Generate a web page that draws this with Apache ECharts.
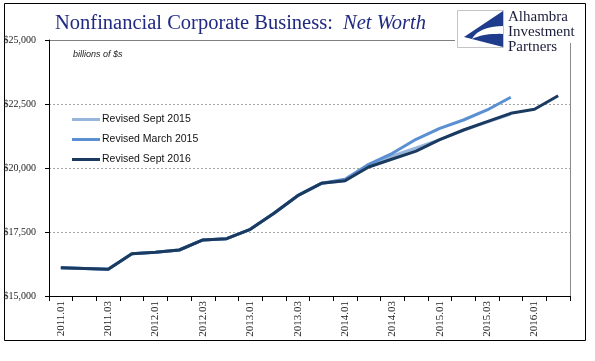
<!DOCTYPE html>
<html>
<head>
<meta charset="utf-8">
<script src="https://cdn.jsdelivr.net/npm/echarts@6/dist/echarts.min.js"></script>
<style>
html,body{margin:0;padding:0;background:#fff;}
#c{width:595px;height:361px;}
</style>
</head>
<body>
<div id="c"></div>
<script>
var categories = ["2011.01","2011.02","2011.03","2011.04","2012.01","2012.02","2012.03","2012.04","2013.01","2013.02","2013.03","2013.04","2014.01","2014.02","2014.03","2014.04","2015.01","2015.02","2015.03","2015.04","2016.01","2016.02"];
var revisedSept2015 = [16105,16074,16043,16652,16707,16797,17188,17238,17605,18230,18918,19402,19504,20100,20470,20780,21110,21470,21790,22110];
var revisedMarch2015 = [16105,16074,16043,16652,16707,16797,17188,17238,17605,18230,18918,19402,19558,20145,20574,21121,21551,21875,22266,22762];
var revisedSept2016 = [16105,16074,16043,16652,16707,16797,17188,17238,17605,18230,18918,19402,19504,20040,20350,20660,21110,21484,21809,22137,22293,22824];
var seriesNames = ["Revised Sept 2015","Revised March 2015","Revised Sept 2016"];
var yTicks = [15000,17500,20000,22500,25000];

var G = {left:49, right:25, top:40, bottom:65};
var W = 595, H = 361;
var chart = echarts.init(document.getElementById('c'), null, {renderer:'canvas'});
var gx0 = G.left, gx1 = W - G.right, gy0 = G.top, gy1 = H - G.bottom;

// white crescent inside logo, approximated with points
var crescent = [];
(function(){
  var i, t, x, y;
  for (i = 0; i <= 10; i++) { t = i/10; x = (1-t)*(1-t)*503 + 2*(1-t)*t*478 + t*t*472; y = (1-t)*(1-t)*26 + 2*(1-t)*t*27 + t*t*39; crescent.push([x,y]); }
  for (i = 0; i <= 10; i++) { t = i/10; x = (1-t)*(1-t)*472 + 2*(1-t)*t*484 + t*t*503; y = (1-t)*(1-t)*39 + 2*(1-t)*t*33 + t*t*34; crescent.push([x,y]); }
})();

var option = {
  animation:false,
  backgroundColor:'#fff',
  title:{
    left:50, top:8,
    text:'{a|Nonfinancial Corporate Business:  }{b|Net Worth}',
    textStyle:{
      fontWeight:'normal',
      rich:{
        a:{fontFamily:'Liberation Serif', fontSize:20.5, fontWeight:'normal', color:'#1F2A80'},
        b:{fontFamily:'Liberation Serif', fontSize:20.5, fontWeight:'normal', fontStyle:'italic', color:'#1F2A80'}
      }
    }
  },
  legend:{
    orient:'vertical', left:67, top:109,
    itemWidth:28, itemHeight:3, itemGap:9,
    icon:'rect',
    data:seriesNames,
    textStyle:{fontFamily:'Liberation Sans', fontSize:10.5, color:'#111', padding:[0,0,0,-3]}
  },
  grid:{left:G.left, right:G.right, top:G.top, bottom:G.bottom, show:false},
  xAxis:{
    type:'category', data:categories, boundaryGap:true,
    axisLine:{show:true, lineStyle:{color:'#000', width:1}},
    axisTick:{show:true, interval:0, length:5, lineStyle:{color:'#000'}},
    axisLabel:{interval:1, rotate:90, margin:5, fontFamily:'Liberation Serif', fontSize:11, color:'#222'},
    splitLine:{show:false}
  },
  yAxis:{
    type:'value', min:yTicks[0], max:yTicks[yTicks.length-1], interval:2500,
    axisLine:{show:true, lineStyle:{color:'#000', width:1}},
    axisTick:{show:true, length:4, lineStyle:{color:'#000'}},
    axisLabel:{margin:13, fontFamily:'Liberation Serif', fontSize:10, color:'#222',
      formatter:function(v){return '$' + v.toLocaleString('en-US');}},
    splitLine:{show:true, showMinLine:false, showMaxLine:false, lineStyle:{color:'#a6a6a6', type:[2,2], width:1}}
  },
  series:[
    {name:seriesNames[0], type:'line', data:revisedSept2015, symbol:'none', lineStyle:{width:3, color:'#98B6DC'}, itemStyle:{color:'#98B6DC'}},
    {name:seriesNames[1], type:'line', data:revisedMarch2015, symbol:'none', lineStyle:{width:3, color:'#5A8FD2'}, itemStyle:{color:'#5A8FD2'}},
    {name:seriesNames[2], type:'line', data:revisedSept2016, symbol:'none', lineStyle:{width:3, color:'#1B3A60'}, itemStyle:{color:'#1B3A60'}}
  ],
  graphic:[
    {type:'rect', shape:{x:4.5, y:3.5, width:581, height:337}, style:{fill:'none', stroke:'#000', lineWidth:1}, z:-1},
    {type:'line', shape:{x1:gx0, y1:gy0+0.5, x2:455, y2:gy0+0.5}, style:{stroke:'#7f7f7f', lineWidth:1}},
    {type:'line', shape:{x1:gx1+0.5, y1:43, x2:gx1+0.5, y2:gy1}, style:{stroke:'#8c8c8c', lineWidth:1}},
    {type:'text', x:73, y:54, style:{text:'billions of $s', font:'italic 9px "Liberation Sans"', fill:'#222', verticalAlign:'middle'}},
    {type:'rect', shape:{x:457.5, y:10.5, width:46, height:37}, style:{fill:'#fff', stroke:'#c4c4c4', lineWidth:1}},
    {type:'polygon', shape:{points:[[503,11],[464,37],[503,47]]}, style:{fill:'#1F3C8C'}},
    {type:'polygon', shape:{points:crescent}, style:{fill:'#fff'}},
    {type:'text', x:508, y:17, style:{text:'Alhambra', font:'15px "Liberation Serif"', fill:'#1c1c3a', verticalAlign:'middle'}},
    {type:'text', x:508, y:32, style:{text:'Investment', font:'15px "Liberation Serif"', fill:'#1c1c3a', verticalAlign:'middle'}},
    {type:'text', x:508, y:47, style:{text:'Partners', font:'15px "Liberation Serif"', fill:'#1c1c3a', verticalAlign:'middle'}}
  ]
};
chart.setOption(option);
</script>
</body>
</html>
